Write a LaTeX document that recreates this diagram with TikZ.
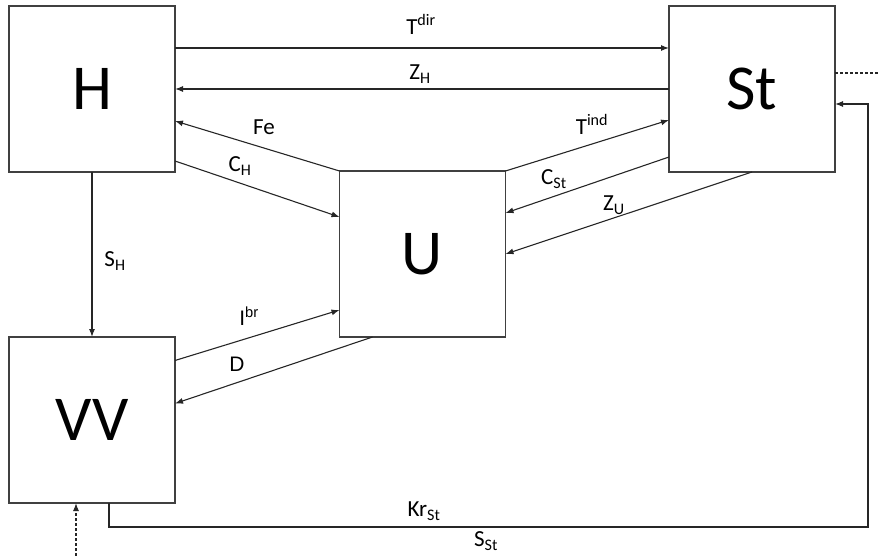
\documentclass[tikz,border=0pt]{standalone}
\usepackage{fontspec}
\setmainfont{Carlito}
\newfontfamily\arialfont{Liberation Sans}
\usetikzlibrary{positioning,arrows.meta,calc}

\begin{document}
\begin{tikzpicture}[
    x=1pt, y=1pt,
    box/.style={draw=black!75, line width=1.2pt, minimum width=166pt, minimum height=166pt, inner sep=0pt, outer sep=0pt, font=\fontsize{64}{64}\selectfont},
    arr/.style={-{Latex[length=8pt,width=6pt]}, line width=1.1pt, black!85},
    dsh/.style={dash pattern=on 3pt off 2pt},
    lbl/.style={font=\fontsize{23}{23}\selectfont, inner sep=0pt}
]
\useasboundingbox (0,0) rectangle (880,-556);
% Boxes
\node[box] (H) at (92,-89) {H};
\node[box, right=494pt of H] (St) {St};
\node[box, below=165pt of H] (VV) {VV};
\node[box] (U) at (422.5,-254) {U};

% Flows between boxes
\draw[arr] ([yshift=41pt]H.east) -- ([yshift=41pt]St.west);
\draw[arr] (St.west) -- (H.east);
\draw[arr] (U.north west) -- ([yshift=-32pt]H.east);
\draw[arr] ([yshift=-72pt]H.east) -- ([yshift=37pt]U.west);
\draw[arr] (U.north east) -- ([yshift=-31pt]St.west);
\draw[arr] ([yshift=-68pt]St.west) -- ([yshift=41pt]U.east);
\draw[arr] (St.south) -- (U.east);
\draw[arr] ([yshift=59.5pt]VV.east) -- ([yshift=-56pt]U.west);
\draw[arr] ([xshift=-50pt]U.south) -- ([yshift=16.5pt]VV.east);
\draw[arr] (H.south) -- (VV.north);

% Return loop
\coordinate (loop) at (868,-527);
\draw[arr] ([xshift=17pt]VV.south) |- (loop) |- ([yshift=-15pt]St.east);

% Outside links
\coordinate (outR) at (880,-73);
\coordinate (inB) at (76,-556);
\draw[line width=1.1pt, black!85, dsh] ([yshift=16pt]St.east) -- (outR);
\draw[arr, dsh] (inB) -- (inB |- VV.south);

% Flow labels
\node[lbl] (tdir) at (421,-24) {T\textsuperscript{dir}};
\node[lbl] (zh) at (420,-74) {Z\textsubscript{H}};
\node[lbl] (fe) at (264,-127) {Fe};
\node[lbl] (ch) at (240,-166) {C\textsubscript{H}};
\node[lbl] (tind) at (592,-124) {T\textsuperscript{ind}};
\node[lbl] (cst) at (554,-179) {C\textsubscript{St}};
\node[lbl] (zu) at (614,-205) {Z\textsubscript{U}};
\node[lbl, font=\arialfont\fontsize{21}{21}\selectfont] (ibr) at (249,-316) {I\textsuperscript{br}};
\node[lbl, font=\arialfont\fontsize{21}{21}\selectfont] (d) at (237,-364) {D};
\node[lbl] (sh) at (115,-261) {S\textsubscript{H}};
\node[lbl] (krst) at (424,-511) {Kr\textsubscript{St}};
\node[lbl] (sst) at (486,-541) {S\textsubscript{St}};
\end{tikzpicture}
\end{document}
